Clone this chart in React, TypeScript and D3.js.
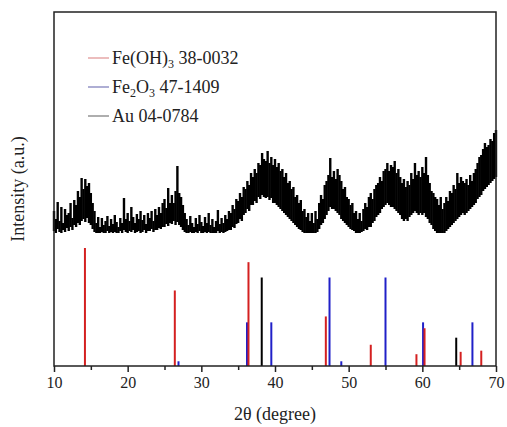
import React, { useEffect, useRef } from "react";
import * as d3 from "d3";

// measured pattern, sampled every 0.25 deg from 10 to 70 (spike tops / band bottoms)
const patternStart = 10;
const patternStep = 0.25;
const patternHi = [
  22, 14, 31, 12, 26, 10, 24, 18, 20, 30, 15, 33, 28, 42, 36, 55,
  44, 54, 47, 50, 40, 30, 22, 10, 16, 6, 15, 8, 12, 17, 7, 14,
  9, 18, 11, 6, 15, 10, 35, 14, 20, 12, 26, 16, 10, 19, 14, 22,
  13, 18, 9, 20, 15, 22, 12, 24, 18, 26, 20, 30, 34, 25, 45, 30,
  38, 30, 42, 67, 40, 36, 28, 20, 14, 8, 17, 10, 6, 15, 9, 18,
  11, 7, 16, 10, 20, 8, 14, 6, 12, 23, 9, 15, 10, 18, 14, 22,
  20, 28, 24, 34, 32, 40, 36, 46, 44, 52, 48, 60, 56, 64, 60, 70,
  68, 80, 74, 72, 82, 70, 76, 68, 74, 66, 70, 62, 64, 56, 60, 50,
  52, 44, 46, 36, 38, 30, 33, 22, 24, 16, 20, 12, 20, 10, 22, 14,
  30, 38, 34, 48, 52, 58, 75, 56, 62, 54, 64, 58, 52, 44, 46, 36,
  34, 28, 30, 20, 22, 14, 20, 12, 24, 30, 26, 36, 40, 34, 44, 48,
  50, 56, 52, 62, 64, 70, 62, 68, 66, 72, 60, 64, 56, 50, 54, 46,
  52, 48, 60, 54, 70, 58, 62, 56, 66, 60, 76, 58, 50, 42, 40, 36,
  34, 28, 36, 24, 30, 36, 32, 42, 40, 48, 44, 60, 50, 56, 52, 50,
  54, 48, 58, 52, 60, 64, 70, 76, 78, 84, 90, 86, 88, 94, 92, 100,
  103,
];
const patternLo = [
  2, 0, 4, 1, 0, 3, 1, 5, 2, 6, 3, 8, 6, 10, 8, 12,
  14, 11, 15, 10, 8, 4, 1, 0, 0, 0, 1, 0, 0, 2, 0, 1,
  0, 1, 0, 0, 2, 0, 3, 1, 0, 2, 1, 3, 0, 1, 2, 0,
  1, 3, 0, 2, 2, 4, 1, 3, 3, 5, 4, 6, 6, 9, 7, 10,
  9, 12, 8, 11, 8, 6, 3, 1, 0, 0, 1, 0, 0, 1, 0, 2,
  0, 0, 1, 0, 1, 0, 0, 0, 0, 2, 0, 1, 0, 1, 2, 3,
  3, 6, 5, 9, 10, 14, 12, 18, 20, 24, 22, 28, 28, 32, 30, 36,
  34, 38, 36, 35, 36, 33, 35, 30, 30, 28, 26, 24, 22, 20, 18, 16,
  14, 12, 10, 8, 6, 4, 3, 1, 0, 0, 0, 0, 0, 0, 0, 1,
  4, 8, 10, 14, 18, 22, 26, 24, 24, 22, 20, 18, 14, 12, 10, 8,
  6, 4, 3, 2, 0, 0, 0, 1, 2, 4, 3, 6, 6, 10, 12, 16,
  18, 20, 24, 26, 28, 30, 28, 26, 26, 24, 22, 20, 18, 14, 12, 14,
  12, 16, 18, 20, 22, 20, 18, 20, 18, 20, 16, 14, 10, 8, 4, 2,
  0, 0, 0, 0, 0, 2, 4, 6, 8, 10, 12, 14, 16, 18, 20, 18,
  20, 22, 24, 26, 28, 30, 34, 36, 38, 42, 44, 46, 48, 50, 52, 54,
  56,
];

// reference cards: 2theta and relative intensity
const feohPos = [14.2, 26.4, 36.4, 46.9, 53.0, 59.2, 60.3, 65.2, 68.0];
const feohInt = [100, 64, 88, 42, 18, 10, 32, 12, 13];
const fe2o3Pos = [26.9, 36.2, 39.5, 47.4, 49.0, 55.0, 60.1, 66.8];
const fe2o3Int = [4, 37, 37, 75, 4, 75, 37, 37];
const auPos = [38.2, 64.6];
const auInt = [75, 24];

const xTicks = [10, 20, 30, 40, 50, 60, 70];
const xMinor = [15, 25, 35, 45, 55, 65];

const W = 507;
const H = 427;
const left = 54;
const right = 496;
const top = 12;
const bottom = 366;
const font = "Liberation Serif";

export default function App() {
  const axisRef = useRef<SVGGElement>(null);

  const x = d3.scaleLinear().domain([10, 70]).range([left, right]);
  const yStick = d3.scaleLinear().domain([0, 100]).range([bottom, 248]);
  const yPat = d3.scaleLinear().domain([0, 100]).range([233, 133]);

  const samples = patternHi.map((hi, i) => ({
    t: patternStart + i * patternStep,
    hi,
    lo: patternLo[i],
  }));

  useEffect(() => {
    const g = d3.select(axisRef.current);
    g.selectAll("*").remove();
    g.append("g")
      .call(d3.axisBottom(x).tickValues(xMinor).tickSize(4).tickFormat(() => ""))
      .call((s) => s.select(".domain").remove());
    const major = g
      .append("g")
      .call(d3.axisBottom(x).tickValues(xTicks).tickSize(6).tickPadding(5).tickFormat(d3.format("d")));
    major.select(".domain").remove();
    major.attr("font-family", font).attr("font-size", 16);
    major.selectAll("text").attr("fill", "#222");
    g.selectAll("line").attr("stroke", "#222").attr("stroke-width", 1.5);
  }, []);

  const sticks = (pos: number[], ints: number[], color: string) =>
    pos.map((p, i) => (
      <line
        key={color + i}
        x1={x(p)}
        x2={x(p)}
        y1={yStick(0)}
        y2={yStick(ints[i])}
        stroke={color}
        strokeWidth={2}
      />
    ));

  const legend = [
    { color: "#e09090", y: 58, label: <>Fe(OH)<tspan fontSize={12} dy={4}>3</tspan><tspan dy={-4}> 38-0032</tspan></> },
    { color: "#7878b8", y: 87, label: <>Fe<tspan fontSize={12} dy={4}>2</tspan><tspan dy={-4}>O</tspan><tspan fontSize={12} dy={4}>3</tspan><tspan dy={-4}> 47-1409</tspan></> },
    { color: "#777", y: 116, label: <>Au 04-0784</> },
  ];

  return (
    <svg width={W} height={H} style={{ position: "absolute", left: 0, top: 0 }} fontFamily={font}>
      <rect width={W} height={H} fill="#fff" />
      <g>
        {samples.map((s, i) => (
          <line
            key={i}
            x1={x(s.t)}
            x2={x(s.t)}
            y1={yPat(s.lo)}
            y2={yPat(s.hi)}
            stroke="#000"
            strokeWidth={2.4}
          />
        ))}
      </g>
      {sticks(fe2o3Pos, fe2o3Int, "#2020c8")}
      {sticks(feohPos, feohInt, "#d42020")}
      {sticks(auPos, auInt, "#000")}
      <rect
        x={left}
        y={top}
        width={right - left}
        height={bottom - top}
        fill="none"
        stroke="#222"
        strokeWidth={1.5}
      />
      <g ref={axisRef} transform={`translate(0,${bottom})`} />
      {legend.map((d) => (
        <g key={d.y}>
          <line x1={88} x2={109} y1={d.y} y2={d.y} stroke={d.color} strokeWidth={1.2} />
          <text x={112} y={d.y + 6} fontSize={18} fill="#222">
            {d.label}
          </text>
        </g>
      ))}
      <text
        transform={`translate(24,${(top + bottom) / 2}) rotate(-90)`}
        textAnchor="middle"
        fontSize={18}
        fill="#222"
      >
        Intensity (a.u.)
      </text>
      <text x={(left + right) / 2} y={420} textAnchor="middle" fontSize={18} fill="#222">
        2θ (degree)
      </text>
    </svg>
  );
}
